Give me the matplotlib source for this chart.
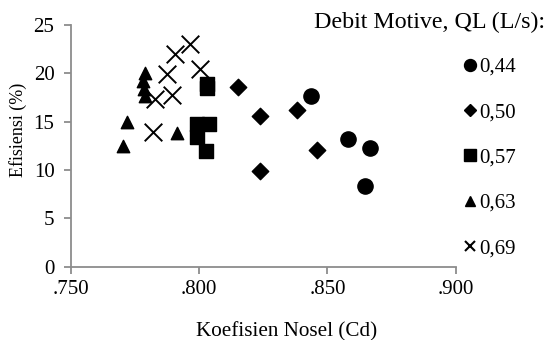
import matplotlib
matplotlib.use("Agg")
import matplotlib.pyplot as plt
from matplotlib.lines import Line2D

plt.rcParams['font.family'] = ['Liberation Serif', 'DejaVu Serif']

# Koefisien nosel (Cd) vs efisiensi (%) per debit motive
labels = ["0,44", "0,50", "0,57", "0,63", "0,69"]

cd_044 = [0.8436, 0.8579, 0.8665, 0.8645]
ef_044 = [17.7, 13.2, 12.3, 8.3]

cd_050 = [0.8151, 0.8236, 0.8382, 0.8236, 0.8460]
ef_050 = [18.6, 15.6, 16.2, 9.9, 12.1]

cd_057 = [0.8030, 0.8030, 0.7993, 0.8039, 0.7993, 0.8027]
ef_057 = [18.9, 18.5, 14.8, 14.8, 13.4, 12.0]

cd_063 = [0.7790, 0.7782, 0.7786, 0.7790, 0.7718, 0.7704, 0.7913]
ef_063 = [20.0, 19.2, 18.4, 17.7, 15.0, 12.5, 13.8]

cd_069 = [0.7965, 0.7906, 0.8001, 0.7874, 0.7893, 0.7828, 0.7819]
ef_069 = [23.0, 22.0, 20.5, 19.9, 17.8, 17.4, 13.9]

x_ticks = [0.750, 0.800, 0.850, 0.900]
x_tick_labels = [".750", ".800", ".850", ".900"]
y_ticks = [0, 5, 10, 15, 20, 25]

fig = plt.figure(figsize=(5.47, 3.40), dpi=100)
ax = fig.add_axes([0.130, 0.216, 0.703, 0.710])

ax.scatter(cd_044, ef_044, marker='o', s=120, color='black', zorder=3)
ax.scatter(cd_050, ef_050, marker='D', s=70, color='black', zorder=3)
ax.scatter(cd_057, ef_057, marker='s', s=95, color='black', zorder=3)
ax.scatter(cd_063, ef_063, marker='^', s=80, color='black', zorder=3)
ax.scatter(cd_069, ef_069, marker='x', s=160, color='black', linewidths=1.4, zorder=3)

ax.set_xlim(0.750, 0.900)
ax.set_ylim(0, 25)
ax.set_xticks(x_ticks)
ax.set_xticklabels(x_tick_labels)
ax.set_yticks(y_ticks)

for side in ('top', 'right'):
    ax.spines[side].set_visible(False)
for side in ('left', 'bottom'):
    ax.spines[side].set_color('#8c8c8c')
    ax.spines[side].set_linewidth(1.3)
ax.tick_params(axis='both', direction='out', length=5, width=1.3, color='#8c8c8c',
               labelsize=15)
ax.tick_params(axis='y', pad=7)
ax.tick_params(axis='x', pad=5)

ax.set_ylabel("Efisiensi (%)", fontsize=13, va='bottom')
ax.yaxis.set_label_coords(-0.115, 0.565)

fig.text(0.524, 1 - 336 / 340, "Koefisien Nosel (Cd)", fontsize=15.2,
         ha='center', va='baseline')

fig.text(0.997, 1 - 28.3 / 340, "Debit Motive, QL (L/s):", fontsize=17.3,
         ha='right', va='baseline')

handles = [
    Line2D([], [], linestyle='none', marker='o', markersize=8.6, color='black'),
    Line2D([], [], linestyle='none', marker='D', markersize=6.3, color='black'),
    Line2D([], [], linestyle='none', marker='s', markersize=8.4, color='black'),
    Line2D([], [], linestyle='none', marker='^', markersize=7.4, color='black'),
    Line2D([], [], linestyle='none', marker='x', markersize=7.5, markeredgewidth=1.5,
           color='black'),
]
ax.legend(handles, labels, loc='upper left', bbox_to_anchor=(0.844, 0.831),
          bbox_transform=fig.transFigure, frameon=False, fontsize=15,
          handletextpad=0.03, handlelength=0.8, labelspacing=1.235,
          borderpad=0, borderaxespad=0)

fig.savefig("out.png", dpi=100)
